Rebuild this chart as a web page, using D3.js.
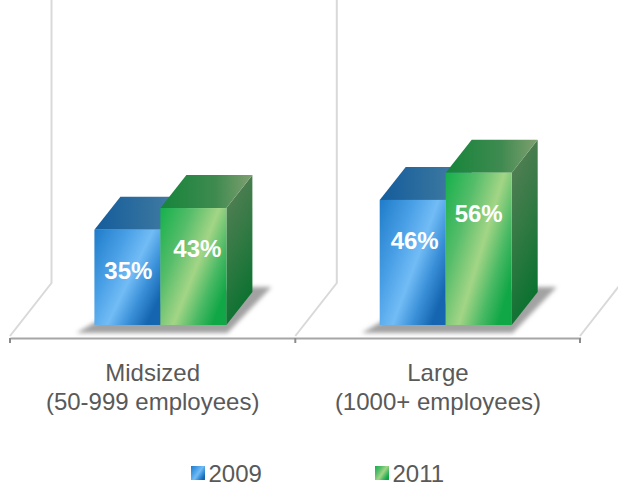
<!DOCTYPE html>
<html>
<head>
<meta charset="utf-8">
<style>
  html, body { margin: 0; padding: 0; background: #fff; }
  text { font-family: "Liberation Sans", Arial, sans-serif; }
</style>
<script src="https://cdn.jsdelivr.net/npm/d3@7"></script>
</head>
<body>
<div id="chart"></div>
<script>
var categories = ["Midsized", "Large"];
var subLabels = ["(50-999 employees)", "(1000+ employees)"];
var seriesNames = ["2009", "2011"];
var values2009 = [35, 46];
var values2011 = [43, 56];

var width = 618, height = 484;
var baseY = 325, axisY = 338;
var depthX = 26, depthY = -33;

var svg = d3.select("#chart").append("svg")
    .attr("width", width)
    .attr("height", height)
    .style("display", "block");

var x = d3.scaleBand().domain(categories).range([10, 580.6]);
var y = d3.scaleLinear().domain([0, 100]).range([baseY, baseY - 272]);
var barX = d3.scaleBand().domain(seriesNames).range([0, 132]);
var barOffset = 84.4;

// gradients
var defs = svg.append("defs");
function gradient(id, x1, y1, x2, y2, stops) {
  var g = defs.append("linearGradient").attr("id", id)
      .attr("x1", x1).attr("y1", y1).attr("x2", x2).attr("y2", y2);
  stops.forEach(function(s) {
    g.append("stop").attr("offset", s[0]).attr("stop-color", s[1]);
  });
}
gradient("front2009", 0, 0, 1, 0.7, [[0, "#1f7cc9"], [0.35, "#4aa0e6"], [0.6, "#72bcf6"], [0.8, "#3a90d8"], [1, "#1565b0"]]);
gradient("front2011", 0, 0, 1, 0.7, [[0, "#15b04c"], [0.32, "#55bd6a"], [0.6, "#a3d586"], [0.82, "#48b964"], [1, "#10a746"]]);
gradient("top2009", 0, 0.5, 1, 0.5, [[0, "#145c9c"], [0.6, "#33729f"], [1, "#4f80a8"]]);
gradient("top2011", 0, 0.5, 1, 0.5, [[0, "#15853a"], [0.6, "#3f8a50"], [1, "#80a070"]]);
gradient("side2009", 0, 0, 0.3, 1, [[0, "#5a8ab0"], [1, "#0f5a9a"]]);
gradient("side2011", 0, 0, 0.3, 1, [[0, "#5c8058"], [0.5, "#367a46"], [1, "#0c7230"]]);
defs.append("filter").attr("id", "blur")
    .attr("x", "-10%").attr("y", "-20%").attr("width", "120%").attr("height", "140%")
    .append("feGaussianBlur").attr("stdDeviation", 2);

// walls and floor lines
var wallColor = "#d9d9d9";
x.domain().concat(["end"]).forEach(function(c) {
  var px = c == "end" ? 580 : x(c);
  var path = d3.path();
  path.moveTo(px, axisY - 2);
  path.lineTo(px + 41.5, axisY - 55);
  if (c != "end") path.lineTo(px + 41.5, 0);
  svg.append("path").attr("d", path.toString())
      .attr("fill", "none").attr("stroke", wallColor).attr("stroke-width", 2);
});

// axis
var axis = d3.axisBottom(x).tickValues([]).tickSize(0);
var axisG = svg.append("g").attr("transform", "translate(0," + axisY + ")").call(axis);
axisG.select(".domain").attr("stroke", "#a6a6a6").attr("stroke-width", 2);
x.domain().concat(["end"]).forEach(function(c) {
  var px = c == "end" ? 580 : x(c);
  axisG.append("line").attr("x1", px).attr("x2", px).attr("y1", 0).attr("y2", 5)
      .attr("stroke", "#8c8c8c").attr("stroke-width", 2);
});

var seriesValues = [values2009, values2011];
// the value labels are not quite centred on the bars in the original
var labelNudge = [[1, 2], [4, 0]];

// bars
var groups = svg.selectAll("g.cat").data(categories).enter().append("g")
    .attr("class", "cat")
    .attr("transform", function(d) { return "translate(" + (x(d) + barOffset) + ",0)"; });

// shadow on the floor
groups.append("path")
    .attr("d", function() {
      var p = d3.path();
      p.moveTo(-18, baseY + 8);
      p.lineTo(133, baseY + 8);
      p.lineTo(177, baseY - 38);
      p.lineTo(150, baseY - 38);
      p.lineTo(20, baseY - 14);
      p.closePath();
      return p.toString();
    })
    .attr("fill", "#a2a2a2")
    .attr("filter", "url(#blur)");

seriesNames.forEach(function(name, si) {
  groups.each(function(cat, ci) {
    var g = d3.select(this);
    var v = seriesValues[si][ci];
    var x0 = barX(name), w = barX.bandwidth(), top = y(v);
    // side
    var side = d3.path();
    side.moveTo(x0 + w, baseY);
    side.lineTo(x0 + w + depthX, baseY + depthY);
    side.lineTo(x0 + w + depthX, top + depthY);
    side.lineTo(x0 + w, top);
    side.closePath();
    g.append("path").attr("d", side.toString()).attr("fill", "url(#side" + name + ")");
    // top
    var tp = d3.path();
    tp.moveTo(x0, top);
    tp.lineTo(x0 + depthX, top + depthY);
    tp.lineTo(x0 + w + depthX, top + depthY);
    tp.lineTo(x0 + w, top);
    tp.closePath();
    g.append("path").attr("d", tp.toString()).attr("fill", "url(#top" + name + ")");
    // front
    g.append("rect").attr("x", x0).attr("y", top).attr("width", w).attr("height", baseY - top)
        .attr("fill", "url(#front" + name + ")");
    // value
    g.append("text").attr("x", x0 + w / 2 + labelNudge[si][ci]).attr("y", top + 49)
        .attr("text-anchor", "middle")
        .attr("fill", "#fff").attr("font-weight", "bold").attr("font-size", 24)
        .text(v + "%");
  });
});

// category labels
var labelColor = "#595959";
categories.forEach(function(c, i) {
  var cx = x(c) + x.bandwidth() / 2;
  svg.append("text").attr("x", cx).attr("y", 381).attr("text-anchor", "middle")
      .attr("fill", labelColor).attr("font-size", 24).text(c);
  svg.append("text").attr("x", cx).attr("y", 410).attr("text-anchor", "middle")
      .attr("fill", labelColor).attr("font-size", 24).text(subLabels[i]);
});

// legend
var legendX = d3.scaleOrdinal().domain(seriesNames).range([191, 375]);
var legend = svg.selectAll("g.legend").data(seriesNames).enter().append("g")
    .attr("class", "legend")
    .attr("transform", function(d) { return "translate(" + legendX(d) + ",466)"; });
legend.append("rect").attr("width", 14).attr("height", 14)
    .attr("fill", function(d) { return "url(#front" + d + ")"; });
legend.append("text").attr("x", 17.5).attr("y", 16)
    .attr("fill", labelColor).attr("font-size", 24)
    .text(function(d) { return d; });
</script>
</body>
</html>
